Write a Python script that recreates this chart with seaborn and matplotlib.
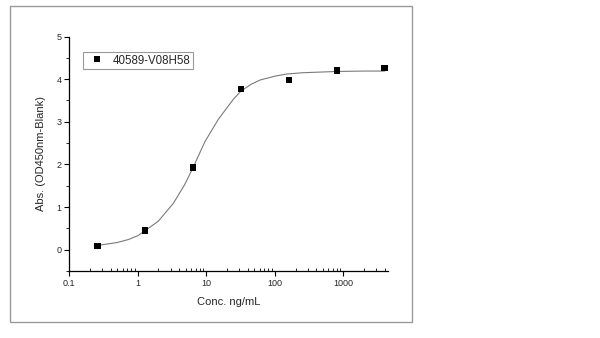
import matplotlib
matplotlib.use("Agg")
import matplotlib.pyplot as plt
import matplotlib.ticker as mticker
from matplotlib.patches import Rectangle
import seaborn as sns
import pandas as pd

# data points
conc = [0.256, 1.28, 6.4, 32, 160, 800, 4000]
absorb = [0.09, 0.455, 1.93, 3.77, 3.98, 4.20, 4.26]
series_name = "40589-V08H58"

# fitted curve
curve_conc = [0.256, 0.5, 0.73, 1.0, 1.28, 1.99, 3.30, 4.8, 6.4, 9.57, 14.96,
              24.8, 32, 45, 60.8, 100, 149, 250, 365, 800, 2000, 4000]
curve_abs = [0.10, 0.17, 0.24, 0.33, 0.45, 0.67, 1.09, 1.52, 1.93, 2.54, 3.06,
             3.53, 3.72, 3.88, 3.98, 4.07, 4.12, 4.15, 4.16, 4.18, 4.19, 4.19]

x_ticks = [0.1, 1, 10, 100, 1000]
x_ticklabels = ["0.1", "1", "10", "100", "1000"]
y_ticks = [0, 1, 2, 3, 4, 5]

sns.set_style("ticks")
plt.rcParams["font.family"] = ["Liberation Sans", "DejaVu Sans"]

fig = plt.figure(figsize=(6.0, 3.38), dpi=100)
ax = fig.add_axes([0.1155, 0.198, 0.531, 0.694])

df_pts = pd.DataFrame({"conc": conc, "abs": absorb, "s": series_name})
df_curve = pd.DataFrame({"conc": curve_conc, "abs": curve_abs})

sns.lineplot(data=df_curve, x="conc", y="abs", ax=ax, color="#7a7a7a",
             linewidth=0.8, legend=False)
sns.scatterplot(data=df_pts, x="conc", y="abs", hue="s", palette=["black"],
                marker="s", s=22, edgecolor="black", linewidth=0, ax=ax, zorder=5)

ax.set_xscale("log")
ax.set_xlim(0.1, 4450)
ax.set_ylim(-0.5, 5)
ax.set_xticks(x_ticks)
ax.set_xticklabels(x_ticklabels)
ax.xaxis.set_minor_locator(mticker.LogLocator(base=10, subs=range(2, 10), numticks=20))
ax.xaxis.set_minor_formatter(mticker.NullFormatter())
ax.set_yticks(y_ticks)
ax.yaxis.set_minor_locator(mticker.MultipleLocator(0.5))

ax.tick_params(axis="both", which="major", labelsize=6.5, length=3.5, width=0.8,
               color="black", pad=2)
ax.tick_params(axis="x", which="minor", direction="in", length=2.5, width=0.7)
ax.tick_params(axis="y", which="minor", direction="out", length=2.5, width=0.7)

for side in ["top", "right"]:
    ax.spines[side].set_visible(False)
for side in ["left", "bottom"]:
    ax.spines[side].set_linewidth(0.9)
    ax.spines[side].set_color("black")

ax.set_xlabel("Conc. ng/mL", fontsize=8, labelpad=7)
ax.set_ylabel("Abs. (OD450nm-Blank)", fontsize=8, labelpad=8)

leg = ax.legend(loc="upper left", bbox_to_anchor=(0.042, 0.933), fontsize=8.3,
                frameon=True, fancybox=False, edgecolor="#808080",
                handlelength=2.0, handletextpad=0.41, borderpad=0.2,
                borderaxespad=0.0, markerscale=0.9)
leg.get_frame().set_linewidth(0.8)
leg.set_title(None)

# outer frame
fig.patches.append(Rectangle((10 / 600, 1 - 322 / 338), 402 / 600, 316 / 338,
                             transform=fig.transFigure, fill=False,
                             edgecolor="#9a9a9a", linewidth=1.0))

fig.savefig("out.png", dpi=100)
